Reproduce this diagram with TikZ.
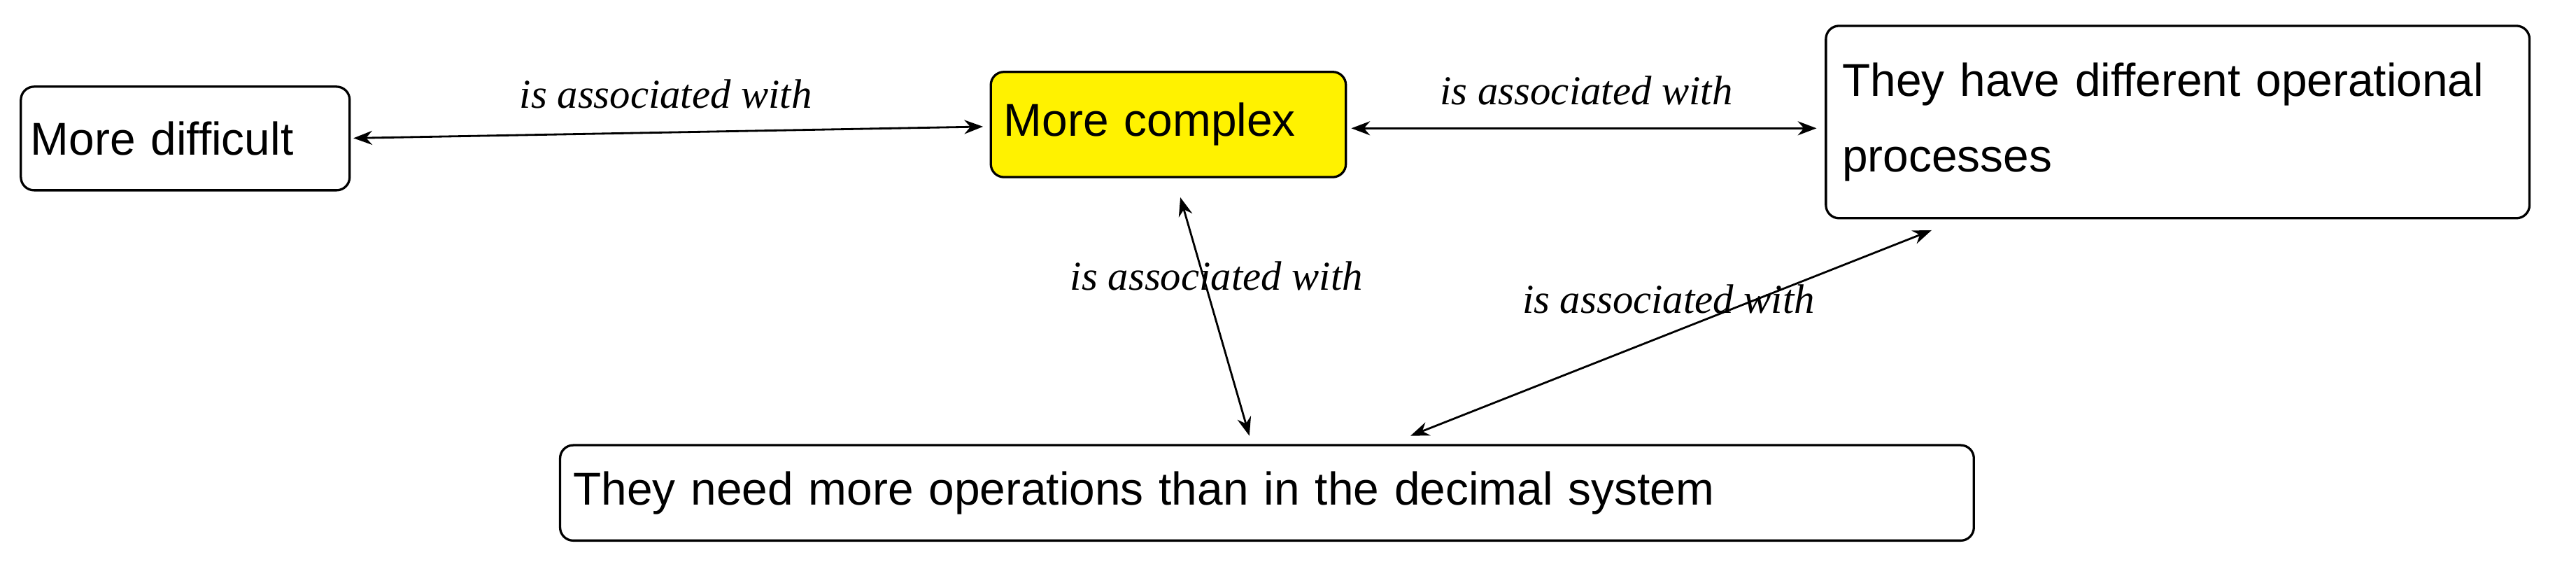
\documentclass[tikz,border=0pt]{standalone}
\usepackage{fontspec}
\setmainfont{Liberation Sans}
\newfontfamily\lblfont{Liberation Serif}
\usetikzlibrary{arrows.meta}
\begin{document}
\begin{tikzpicture}[x=0.5pt,y=-0.5pt,
  box/.style={draw,rounded corners=4pt,line width=0.7pt,inner sep=0pt,font=\fontsize{14}{16}\selectfont},
  conn/.style={Stealth-Stealth,line width=0.6pt},
  lbl/.style={font=\lblfont\itshape\fontsize{12.5}{14}\selectfont,inner sep=1pt}]
\useasboundingbox (0,0) rectangle (1567,350);
\node[box,minimum width=100pt,minimum height=31.5pt,anchor=north west,text width=94pt,align=left] (md) at (12,52) {More difficult};
\node[box,fill=yellow,minimum width=108pt,minimum height=32pt,anchor=north west,text width=100pt,align=left] (mc) at (602,43) {More complex};
\node[box,minimum width=214pt,minimum height=58.5pt,anchor=north west,text width=204pt,align=left,font=\fontsize{14}{23}\selectfont] (th) at (1110,15) {They have different operational\\processes\\[10pt]};
\node[box,minimum width=430pt,minimum height=29pt,anchor=north west,text width=422pt,align=left] (tn) at (340,270) {They need more operations than in the decimal system};
\coordinate (a1) at (215,84);
\coordinate (a2) at (598,77);
\draw[conn] (a1) -- (a2);
\coordinate (b1) at (822,78);
\coordinate (b2) at (1105,78);
\draw[conn] (b1) -- (b2);
\coordinate (c1) at (718,120);
\coordinate (c2) at (760,265);
\draw[conn] (c1) -- (c2);
\coordinate (d1) at (858,265);
\coordinate (d2) at (1175,140);
\draw[conn] (d1) -- (d2);
\node[lbl] (l1) at (405,57) {is associated with};
\node[lbl] (l2) at (965,55) {is associated with};
\node[lbl] (l3) at (740,168) {is associated with};
\node[lbl] (l4) at (1015,182) {is associated with};
\end{tikzpicture}
\end{document}
